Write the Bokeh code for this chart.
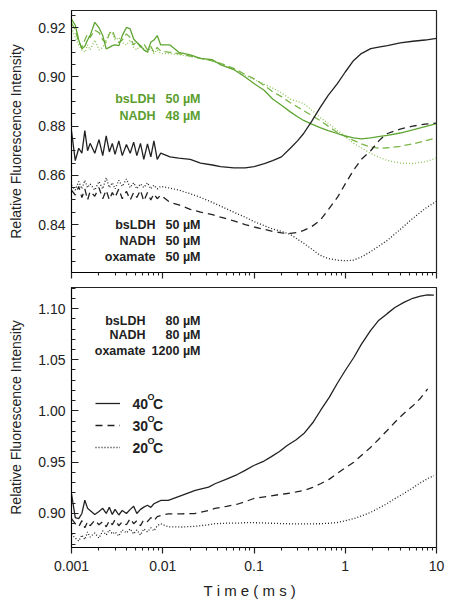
from bokeh.plotting import figure
from bokeh.layouts import column
from bokeh.models import (FixedTicker, CustomJSTickFormatter, Label, Legend,
                          LegendItem, Range1d)
from bokeh.embed import file_html
from bokeh.resources import INLINE

FONT = "Liberation Sans"
BLACK = "#222222"
GREEN_TEXT = "#5c9e2e"
GREEN_SOLID = "#5fa532"
GREEN_DASH = "#7ab648"
GREEN_DOT = "#8cc45a"

# ---------------- data ----------------
X_MAJOR = [0.001, 0.01, 0.1, 1, 10]
X_MINOR = [m * 10.0 ** e for e in range(-3, 1) for m in range(2, 10)]

# early noisy part (shared time grid, ms)
T_EARLY = [0.0010, 0.0011, 0.0012, 0.0013, 0.0014, 0.0015, 0.0016, 0.0018, 0.0020,
           0.0022, 0.0024, 0.0026, 0.0028, 0.0030, 0.0033, 0.0036, 0.0040, 0.0044,
           0.0048, 0.0052, 0.0057, 0.0062, 0.0068, 0.0074, 0.0080, 0.0087, 0.0095]

# top panel
T_TOP = [0.012, 0.015, 0.02, 0.026, 0.035, 0.043, 0.06, 0.08, 0.1, 0.13, 0.16, 0.2,
         0.25, 0.3, 0.35, 0.43, 0.53, 0.65, 0.82, 1.0, 1.23, 1.5, 1.9, 2.4, 2.9, 4.0,
         5.5, 7.5, 10]

top_black_solid_early = [0.8780, 0.8660, 0.8710, 0.8690, 0.8782, 0.8700, 0.8730, 0.8690, 0.8745,
                         0.8680, 0.8760, 0.8695, 0.8730, 0.8685, 0.8740, 0.8680, 0.8725, 0.8690,
                         0.8735, 0.8680, 0.8730, 0.8665, 0.8728, 0.8675, 0.8740, 0.8665, 0.8690]
top_black_solid = [0.8675, 0.8670, 0.8665, 0.8650, 0.8642, 0.8635, 0.8630, 0.8630, 0.8635, 0.8648,
                   0.8660, 0.8675, 0.8710, 0.8740, 0.8770, 0.8820, 0.8875, 0.8925, 0.8973, 0.9020,
                   0.9066, 0.9095, 0.9115, 0.9122, 0.9127, 0.9138, 0.9145, 0.9150, 0.9157]

top_black_dash_early = [0.8540, 0.8520, 0.8555, 0.8510, 0.8545, 0.8500, 0.8535, 0.8515, 0.8550,
                        0.8505, 0.8540, 0.8500, 0.8530, 0.8510, 0.8545, 0.8505, 0.8535, 0.8500,
                        0.8530, 0.8510, 0.8540, 0.8495, 0.8530, 0.8500, 0.8525, 0.8505, 0.8520]
top_black_dash = [0.8490, 0.8480, 0.8462, 0.8450, 0.8440, 0.8430, 0.8415, 0.8400, 0.8390, 0.8380,
                  0.8372, 0.8366, 0.8364, 0.8368, 0.8376, 0.8392, 0.8417, 0.8460, 0.8510, 0.8565,
                  0.8620, 0.8665, 0.8700, 0.8745, 0.8770, 0.8788, 0.8800, 0.8808, 0.8812]

top_black_dot_early = [0.8560, 0.8540, 0.8575, 0.8545, 0.8580, 0.8550, 0.8565, 0.8540, 0.8575,
                       0.8545, 0.8590, 0.8550, 0.8570, 0.8545, 0.8580, 0.8555, 0.8585, 0.8550,
                       0.8570, 0.8545, 0.8565, 0.8550, 0.8570, 0.8545, 0.8560, 0.8545, 0.8555]
top_black_dot = [0.8548, 0.8540, 0.8525, 0.8510, 0.8490, 0.8475, 0.8450, 0.8430, 0.8412, 0.8395,
                 0.8382, 0.8372, 0.8360, 0.8340, 0.8324, 0.8300, 0.8275, 0.8262, 0.8255, 0.8253,
                 0.8255, 0.8268, 0.8290, 0.8315, 0.8336, 0.8380, 0.8425, 0.8465, 0.8495]

top_green_solid_early = [0.9235, 0.9210, 0.9150, 0.9114, 0.9125, 0.9150, 0.9168, 0.9222, 0.9200,
                         0.9168, 0.9114, 0.9120, 0.9127, 0.9130, 0.9127, 0.9168, 0.9201, 0.9195,
                         0.9154, 0.9140, 0.9127, 0.9110, 0.9100, 0.9141, 0.9150, 0.9168, 0.9130]
top_green_solid = [0.9130, 0.9100, 0.9090, 0.9075, 0.9070, 0.9050, 0.9030, 0.9000, 0.8973, 0.8945,
                   0.8910, 0.8885, 0.8858, 0.8838, 0.8823, 0.8808, 0.8794, 0.8782, 0.8770, 0.8760,
                   0.8752, 0.8748, 0.8752, 0.8758, 0.8762, 0.8772, 0.8785, 0.8798, 0.8810]

top_green_dash_early = [0.9220, 0.9190, 0.9140, 0.9120, 0.9150, 0.9175, 0.9160, 0.9190, 0.9180,
                        0.9150, 0.9140, 0.9175, 0.9190, 0.9160, 0.9140, 0.9150, 0.9175, 0.9160,
                        0.9130, 0.9145, 0.9120, 0.9135, 0.9110, 0.9125, 0.9100, 0.9120, 0.9105]
top_green_dash = [0.9100, 0.9095, 0.9085, 0.9075, 0.9065, 0.9055, 0.9035, 0.9010, 0.8993, 0.8965,
                  0.8940, 0.8920, 0.8895, 0.8878, 0.8863, 0.8843, 0.8823, 0.8800, 0.8774, 0.8758,
                  0.8742, 0.8728, 0.8715, 0.8710, 0.8712, 0.8718, 0.8728, 0.8740, 0.8752]

top_green_dot_early = [0.9200, 0.9160, 0.9130, 0.9110, 0.9100, 0.9130, 0.9110, 0.9150, 0.9110,
                       0.9120, 0.9150, 0.9180, 0.9175, 0.9150, 0.9160, 0.9140, 0.9130, 0.9150,
                       0.9120, 0.9110, 0.9130, 0.9115, 0.9100, 0.9120, 0.9095, 0.9110, 0.9095]
top_green_dot = [0.9095, 0.9090, 0.9082, 0.9075, 0.9065, 0.9050, 0.9030, 0.9005, 0.8990, 0.8970,
                 0.8955, 0.8935, 0.8910, 0.8900, 0.8892, 0.8865, 0.8835, 0.8812, 0.8782, 0.8758,
                 0.8730, 0.8712, 0.8689, 0.8672, 0.8660, 0.8650, 0.8648, 0.8655, 0.8670]

# bottom panel
T_BOT = [0.0115, 0.0162, 0.0227, 0.0318, 0.0374, 0.05, 0.0655, 0.08, 0.0995, 0.125, 0.152,
         0.19, 0.231, 0.29, 0.352, 0.44, 0.536, 0.67, 0.816, 1.0, 1.24, 1.5, 1.89, 2.3,
         2.88, 3.5, 4.39, 5.5, 6.68, 8.0, 9.36]

bot_40_early = [0.9192, 0.8960, 0.8950, 0.9000, 0.9130, 0.9050, 0.9030, 0.8990, 0.9020,
                0.9050, 0.9000, 0.9060, 0.8990, 0.9040, 0.8985, 0.9030, 0.9000, 0.9040,
                0.9070, 0.9000, 0.9040, 0.9062, 0.9080, 0.9060, 0.9095, 0.9110, 0.9127]
bot_40 = [0.9127, 0.9176, 0.9225, 0.9257, 0.9290, 0.9335, 0.9380, 0.9420, 0.9468, 0.9505,
          0.9550, 0.9605, 0.9663, 0.9720, 0.9780, 0.9885, 1.0005, 1.0135, 1.0268, 1.0395,
          1.0522, 1.0650, 1.0785, 1.0880, 1.0950, 1.1010, 1.1060, 1.1100, 1.1120, 1.1132, 1.1130]

bot_30_early = [0.8950, 0.8900, 0.8870, 0.8930, 0.8860, 0.8920, 0.8880, 0.8935, 0.8890,
                0.8920, 0.8870, 0.8930, 0.8890, 0.8940, 0.8880, 0.8920, 0.8890, 0.8950,
                0.8900, 0.8930, 0.8880, 0.8940, 0.8920, 0.8960, 0.8930, 0.8970, 0.8980]
bot_30 = [0.8997, 0.8997, 0.9000, 0.9030, 0.9050, 0.9070, 0.9090, 0.9115, 0.9146, 0.9160,
          0.9170, 0.9185, 0.9195, 0.9210, 0.9224, 0.9255, 0.9290, 0.9335, 0.9390, 0.9445,
          0.9500, 0.9565, 0.9644, 0.9720, 0.9810, 0.9890, 0.9976, 1.0050, 1.0125, 1.0215]

bot_20_early = [0.8800, 0.8760, 0.8730, 0.8790, 0.8745, 0.8820, 0.8770, 0.8810, 0.8760,
                0.8830, 0.8790, 0.8840, 0.8800, 0.8820, 0.8780, 0.8840, 0.8810, 0.8850,
                0.8800, 0.8840, 0.8790, 0.8850, 0.8820, 0.8860, 0.8830, 0.8880, 0.8900]
bot_20 = [0.8870, 0.8868, 0.8875, 0.8890, 0.8900, 0.8905, 0.8905, 0.8910, 0.8910, 0.8908,
          0.8905, 0.8902, 0.8900, 0.8898, 0.8898, 0.8899, 0.8900, 0.8905, 0.8912, 0.8928,
          0.8950, 0.8975, 0.9010, 0.9050, 0.9097, 0.9145, 0.9195, 0.9250, 0.9300, 0.9340, 0.9370]

TOP_Y_TICKS = [0.84, 0.86, 0.88, 0.90, 0.92]
BOT_Y_TICKS = [0.90, 0.95, 1.00, 1.05, 1.10]
LEGEND_TEMPS = ["40", "30", "20"]


def series(t_late, early, late):
    t = T_EARLY + t_late[:len(late)]
    y = early + late
    assert len(t) == len(y)
    return t, y


def style(p, yticks, yminor, show_x_labels):
    p.outline_line_color = BLACK
    p.outline_line_width = 1.2
    p.outline_line_alpha = 1.0
    p.xgrid.visible = False
    p.ygrid.visible = False

    xa = p.xaxis[0]
    xa.ticker = FixedTicker(ticks=X_MAJOR, minor_ticks=X_MINOR)
    xa.major_tick_in = 0
    xa.major_tick_out = 6
    xa.minor_tick_in = 0
    xa.minor_tick_out = 3
    xa.major_tick_line_color = BLACK
    xa.minor_tick_line_color = BLACK
    xa.major_tick_line_width = 1.2
    xa.minor_tick_line_width = 1.1
    if show_x_labels:
        xa.formatter = CustomJSTickFormatter(code="return tick.toString();")
        xa.major_label_text_font = FONT
        xa.major_label_text_font_size = "14px"
        xa.major_label_text_color = BLACK
        xa.major_label_standoff = 7
        xa.axis_label = "T i m e   ( m s )"
        xa.axis_label_text_font = FONT
        xa.axis_label_text_font_size = "15px"
        xa.axis_label_text_font_style = "normal"
        xa.axis_label_text_color = BLACK
        xa.axis_label_standoff = 8
    else:
        xa.formatter = CustomJSTickFormatter(code="return '';")
        xa.major_label_text_font_size = "1px"
        xa.major_label_standoff = 0

    ya = p.yaxis[0]
    ya.ticker = FixedTicker(ticks=yticks, minor_ticks=yminor)
    ya.formatter = CustomJSTickFormatter(code="return tick.toFixed(2);")
    ya.major_tick_in = 7
    ya.major_tick_out = 0
    ya.minor_tick_in = 4
    ya.minor_tick_out = 0
    ya.major_tick_line_color = BLACK
    ya.minor_tick_line_color = BLACK
    ya.major_tick_line_width = 1.2
    ya.minor_tick_line_width = 1.1
    ya.major_label_text_font = FONT
    ya.major_label_text_font_size = "14px"
    ya.major_label_text_color = BLACK
    ya.major_label_standoff = 6
    ya.axis_label = "Relative Fluorescence Intensity"
    ya.axis_label_text_font = FONT
    ya.axis_label_text_font_size = "14px"
    ya.axis_label_text_font_style = "normal"
    ya.axis_label_text_color = BLACK
    ya.axis_label_standoff = 11


def label(p, x, y, text, color, align="right", size="12.5px", bold=True):
    p.add_layout(Label(x=x, y=y, x_units="screen", y_units="screen", text=text,
                       text_align=align, text_baseline="middle", text_font=FONT,
                       text_font_size=size, text_font_style="bold" if bold else "normal",
                       text_color=color))


# ---------------- top panel ----------------
top = figure(width=448, height=285, x_axis_type="log",
             x_range=Range1d(0.001, 10), y_range=Range1d(0.8205, 0.927),
             output_backend="svg", toolbar_location=None,
             min_border_left=71, min_border_right=12, min_border_top=10, min_border_bottom=13)

top_minor = [round(0.82 + 0.005 * i, 3) for i in range(22)]
style(top, TOP_Y_TICKS, top_minor, False)

for early, late, color, dash in [
    (top_green_dot_early, top_green_dot, GREEN_DOT, "1 2"),
    (top_green_dash_early, top_green_dash, GREEN_DASH, "7 4"),
    (top_green_solid_early, top_green_solid, GREEN_SOLID, "solid"),
    (top_black_dot_early, top_black_dot, BLACK, "1 2"),
    (top_black_dash_early, top_black_dash, BLACK, "7 5"),
    (top_black_solid_early, top_black_solid, BLACK, "solid"),
]:
    t, y = series(T_TOP, early, late)
    top.line(t, y, line_color=color, line_width=1.3, line_dash=dash)

# annotations (screen px relative to the frame)
label(top, 84, 173.5, "bsLDH", GREEN_TEXT)
label(top, 129, 173.5, "50 µM", GREEN_TEXT)
label(top, 84, 156.5, "NADH", GREEN_TEXT)
label(top, 129, 156.5, "48 µM", GREEN_TEXT)
label(top, 84, 48, "bsLDH", BLACK)
label(top, 129, 48, "50 µM", BLACK)
label(top, 84, 32, "NADH", BLACK)
label(top, 129, 32, "50 µM", BLACK)
label(top, 84, 16, "oxamate", BLACK)
label(top, 129, 16, "50 µM", BLACK)

# ---------------- bottom panel ----------------
bot = figure(width=448, height=322, x_axis_type="log",
             x_range=Range1d(0.001, 10), y_range=Range1d(0.8668, 1.1205),
             output_backend="svg", toolbar_location=None,
             min_border_left=71, min_border_right=12, min_border_top=2, min_border_bottom=60)

bot_minor = [round(0.87 + 0.01 * i, 3) for i in range(26)]
style(bot, BOT_Y_TICKS, bot_minor, True)

renderers = []
for early, late, dash in [
    (bot_40_early, bot_40, "solid"),
    (bot_30_early, bot_30, "7 5"),
    (bot_20_early, bot_20, "1 2"),
]:
    t, y = series(T_BOT, early, late)
    renderers.append(bot.line(t, y, line_color=BLACK, line_width=1.3, line_dash=dash))

legend = Legend(items=[LegendItem(label=" ", renderers=[r]) for r in renderers],
                location=(24, 92), orientation="vertical",
                glyph_width=25, glyph_height=16, label_height=16, label_width=1,
                label_standoff=0, spacing=6, padding=0, margin=0,
                border_line_color=None, background_fill_alpha=0.0,
                label_text_font_size="1px")
bot.add_layout(legend)

label(bot, 74, 227, "bsLDH", BLACK)
label(bot, 129, 227, "80 µM", BLACK)
label(bot, 74, 213, "NADH", BLACK)
label(bot, 129, 213, "80 µM", BLACK)
label(bot, 74, 197, "oxamate", BLACK)
label(bot, 129, 197, "1200 µM", BLACK)

for i, temp in enumerate(LEGEND_TEMPS):
    yrow = 144 - 22 * i
    label(bot, 61, yrow, temp, BLACK, align="left", size="14px")
    label(bot, 76, yrow + 6.5, "O", BLACK, align="left", size="9px")
    label(bot, 81.5, yrow, "C", BLACK, align="left", size="14px")

layout = column(top, bot, spacing=0)
open("out.html", "w").write(file_html(layout, INLINE))
